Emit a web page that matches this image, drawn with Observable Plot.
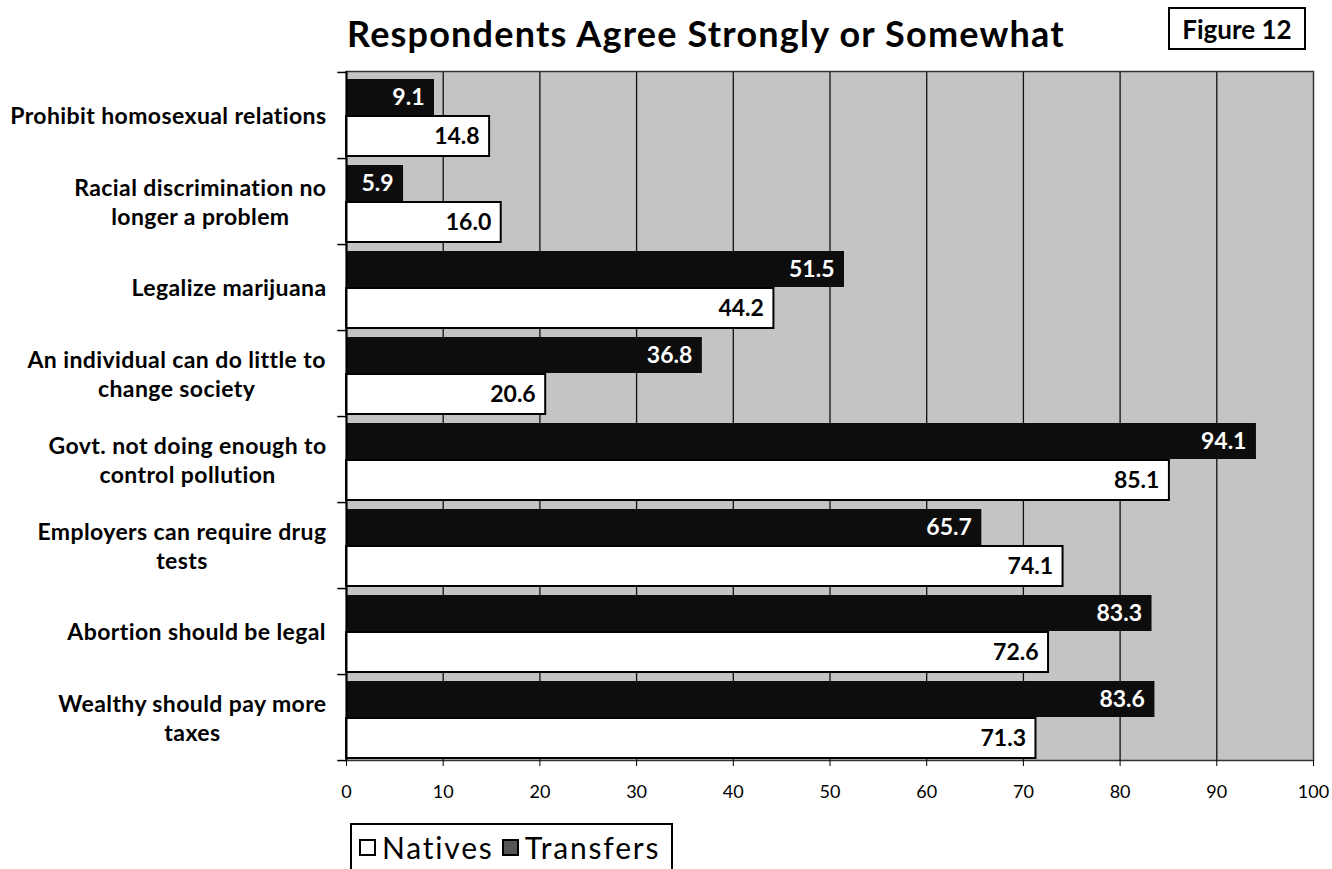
<!DOCTYPE html>
<html>
<head>
<meta charset="utf-8">
<script src="https://cdn.jsdelivr.net/npm/d3@7"></script>
<script src="https://cdn.jsdelivr.net/npm/@observablehq/plot@0.6"></script>
<style>
  body { margin: 0; background: #fff; font-family: Lato, "Open Sans", sans-serif; width: 1332px; height: 869px; overflow: hidden; position: relative; }
  #header { position: relative; height: 60px; }
  #title { position: absolute; left: 347px; top: 15px; font-size: 36px; letter-spacing: 1.2px; font-weight: bold; line-height: 36px; white-space: nowrap; color: #000; }
  #fig { position: absolute; left: 1168px; top: 7px; width: 138px; height: 43px; box-sizing: border-box; border: 2px solid #000; font-size: 26px; font-weight: bold; display: flex; align-items: center; justify-content: center; }
  #chart svg { display: block; }
  #legend { position: absolute; left: 350px; top: 823px; width: 323px; height: 60px; box-sizing: border-box; border: 2px solid #000; border-bottom: none; display: flex; align-items: flex-start; padding: 7px 0 0 7px; font-size: 30px; letter-spacing: 1.8px; line-height: 30px; color: #000; }
  .sw { display: inline-block; width: 17px; height: 17px; box-sizing: border-box; border: 2px solid #000; margin: 7px 6px 0 0; }
  .item { display: flex; align-items: flex-start; margin-right: 8px; }
</style>
</head>
<body>
<div id="header">
  <div id="title">Respondents Agree Strongly or Somewhat</div>
  <div id="fig">Figure 12</div>
</div>
<div id="chart"></div>
<div id="legend">
  <span class="item"><span class="sw" style="background:#fff"></span>Natives</span>
  <span class="item"><span class="sw" style="background:#555"></span>Transfers</span>
</div>
<script>
const questions = [
  "Prohibit homosexual relations",
  "Racial discrimination no longer a problem",
  "Legalize marijuana",
  "An individual can do little to change society",
  "Govt. not doing enough to control pollution",
  "Employers can require drug tests",
  "Abortion should be legal",
  "Wealthy should pay more taxes"
];
const questionLabels = [
  "Prohibit homosexual relations",
  "Racial discrimination no\nlonger a problem",
  "Legalize marijuana",
  "An individual can do little to\nchange society",
  "Govt. not doing enough to\ncontrol pollution",
  "Employers can require drug\ntests",
  "Abortion should be legal",
  "Wealthy should pay more\ntaxes"
];
const natives   = [14.8, 16.0, 44.2, 20.6, 85.1, 74.1, 72.6, 71.3];
const transfers = [9.1, 5.9, 51.5, 36.8, 94.1, 65.7, 83.3, 83.6];
const xTicks = [0, 10, 20, 30, 40, 50, 60, 70, 80, 90, 100];

const rows = questions.map((q, i) => ({q, natives: natives[i], transfers: transfers[i]}));
const labelOf = new Map(questions.map((q, i) => [q, questionLabels[i]]));

const plot = Plot.plot({
  width: 1332,
  height: 755,
  marginLeft: 346,
  marginRight: 19,
  marginTop: 11,
  marginBottom: 55,
  style: {fontFamily: "Lato, 'Open Sans', sans-serif", color: "#000", background: "transparent"},
  x: {domain: [0, 100], label: null},
  y: {domain: questions, padding: 0, label: null},
  marks: [
    Plot.frame({fill: "#c4c4c4", stroke: null}),
    Plot.ruleX(xTicks.filter(t => t > 0 && t < 100), {stroke: "#111", strokeWidth: 1.3}),
    Plot.frame({stroke: "#333", strokeWidth: 1.5}),
    Plot.barX(rows, {x: "transfers", y: "q", fill: "#0d0d0d", insetTop: 7, insetBottom: 43}),
    Plot.barX(rows, {x: "natives", y: "q", fill: "#fff", stroke: "#000", strokeWidth: 2, insetTop: 44, insetBottom: 2}),
    Plot.ruleX([0], {stroke: "#000", strokeWidth: 2}),
    Plot.ruleY(rows, {y: "q", x1: -0.9, x2: 0, dy: 43.06, stroke: "#000", strokeWidth: 1.5}),
    Plot.ruleY(rows.slice(0, 1), {y: "q", x1: -0.9, x2: 0, dy: -43.06, stroke: "#000", strokeWidth: 1.5}),
    Plot.text(rows, {x: "transfers", y: "q", text: d => d.transfers.toFixed(1), textAnchor: "end", dx: -10, dy: -18, fill: "#fff", fontSize: 23, fontWeight: "bold"}),
    Plot.text(rows, {x: "natives", y: "q", text: d => d.natives.toFixed(1), textAnchor: "end", dx: -10, dy: 21, fill: "#000", fontSize: 23, fontWeight: "bold"}),
    Plot.axisX({ticks: xTicks, tickSize: 6, tickPadding: 19, fontSize: 18, label: null, tickFormat: d => String(d)}),
    Plot.axisY({tickSize: 0, tickPadding: 20, fontSize: 23, fontWeight: "bold", lineHeight: 1.22, label: null, tickFormat: q => labelOf.get(q)})
  ]
});
document.getElementById("chart").appendChild(plot);

// widen category labels slightly and center multi-line labels on their own width (right edge kept)
d3.select(plot).selectAll("g[aria-label='y-axis tick label'] text").each(function() {
  this.style.letterSpacing = "0.4px";
  const w = this.getBBox().width;
  const t = this.getAttribute("transform") || "";
  this.setAttribute("transform", t + ` translate(${-w / 2},0)`);
  this.setAttribute("text-anchor", "middle");
  this.style.textAnchor = "middle";
});
</script>
</body>
</html>
